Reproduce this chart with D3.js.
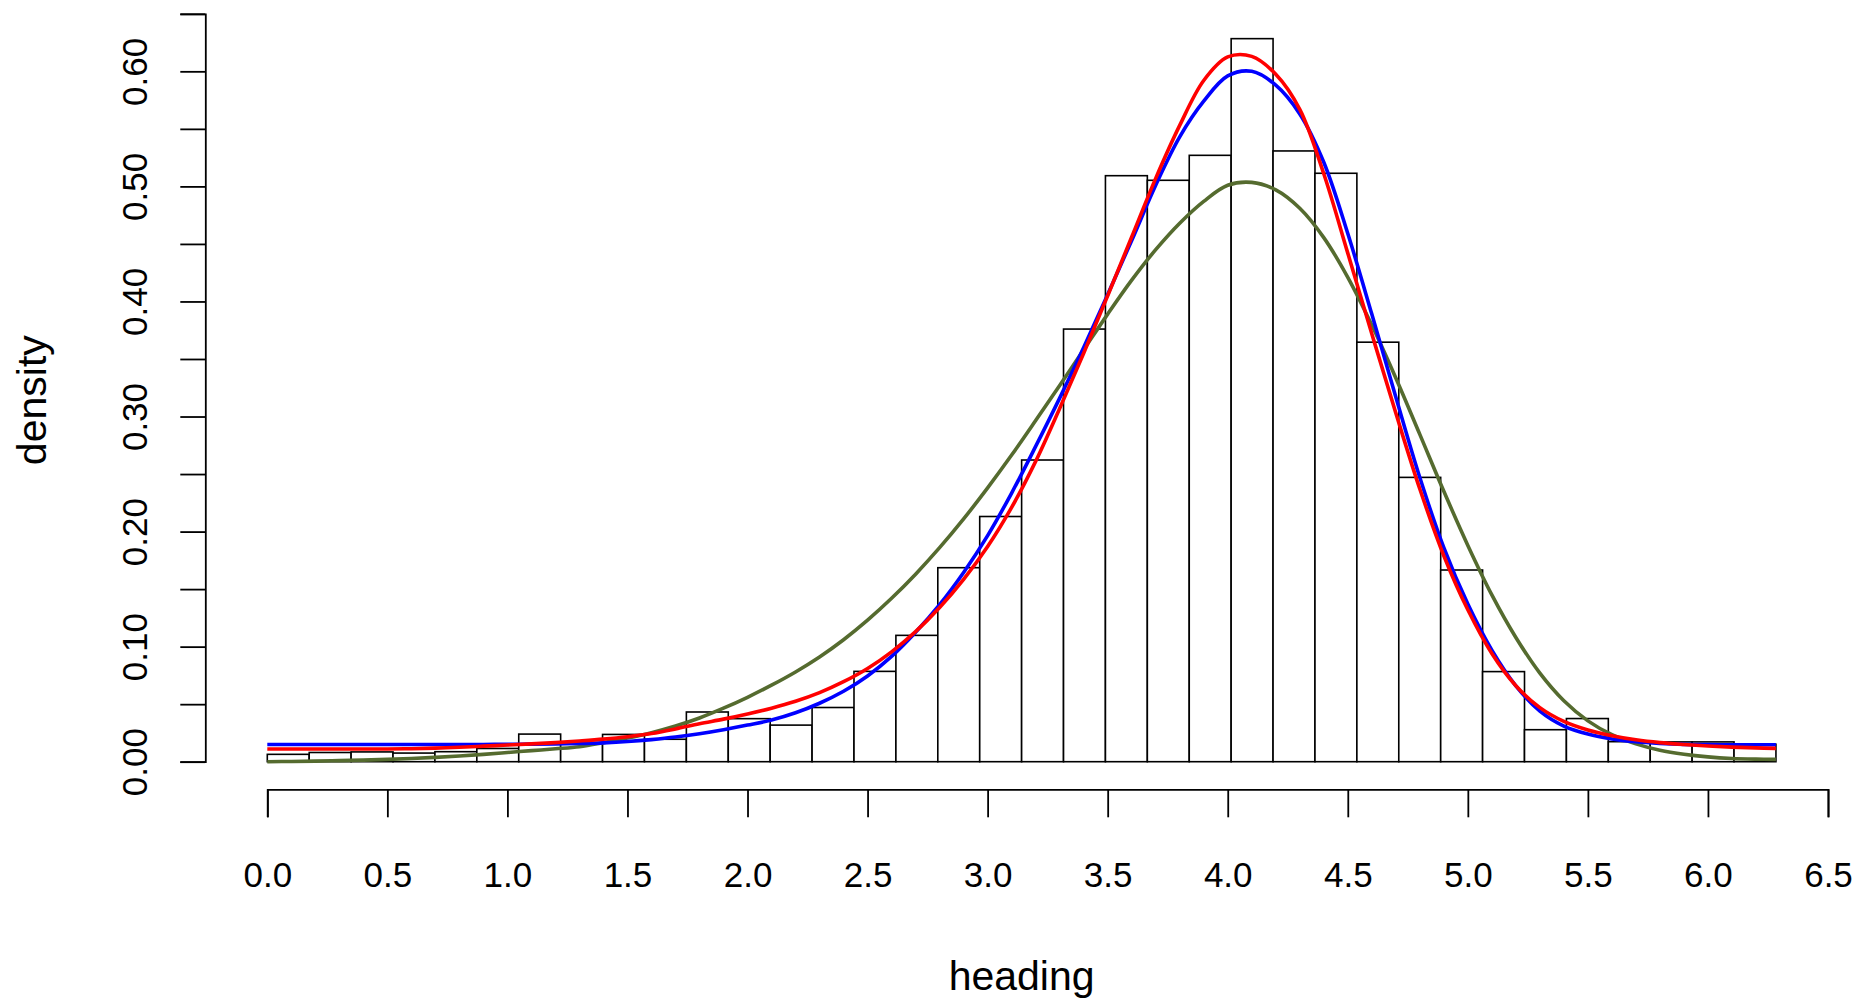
<!DOCTYPE html>
<html>
<head>
<meta charset="utf-8">
<script src="https://cdn.jsdelivr.net/npm/d3@7"></script>
<style>
  html, body { margin: 0; padding: 0; background: #fff; }
  svg { display: block; }
  text { font-family: 'Liberation Sans', Arial, sans-serif; fill: #000; }
</style>
</head>
<body>
<div id="chart"></div>
<script>
// histogram of heading (36 bins of 10 degrees over 0..2pi), density scale
const binCount = 36
const headingMax = 2 * Math.PI
const binDensity = [
  0.0064, 0.0080, 0.0085, 0.0075, 0.0087, 0.0115, 0.0240, 0.0160, 0.0237,
  0.0195, 0.0432, 0.0374, 0.0318, 0.0471, 0.0785, 0.1098, 0.1686, 0.2131,
  0.2622, 0.3760, 0.5093, 0.5053, 0.5270, 0.6284, 0.5308, 0.5114, 0.3646,
  0.2471, 0.1666, 0.0783, 0.0278, 0.0375, 0.0174, 0.0172, 0.0172, 0.0152
]

const curveHeading = [
  0.0, 0.1, 0.2, 0.3, 0.4, 0.5, 0.6, 0.7, 0.8, 0.9,
  1.0, 1.1, 1.2, 1.3, 1.4, 1.5, 1.6, 1.7, 1.8, 1.9,
  2.0, 2.1, 2.2, 2.3, 2.4, 2.5, 2.6, 2.7, 2.8, 2.9,
  3.0, 3.1, 3.2, 3.3, 3.4, 3.5, 3.6, 3.7, 3.8, 3.9,
  4.0, 4.1, 4.2, 4.3, 4.4, 4.5, 4.6, 4.7, 4.8, 4.9,
  5.0, 5.1, 5.2, 5.3, 5.4, 5.5, 5.6, 5.7, 5.8, 5.9,
  6.0, 6.1, 6.2, 6.283
]
const blueDensity = [
  0.0150, 0.0150, 0.0150, 0.0150, 0.0150, 0.0150, 0.0150, 0.0150, 0.0150, 0.0150,
  0.0151, 0.0153, 0.0155, 0.0158, 0.0164, 0.0175, 0.0192, 0.0214, 0.0243, 0.0278,
  0.0318, 0.0362, 0.0425, 0.0508, 0.0612, 0.0745, 0.0915, 0.1125, 0.1365, 0.1645,
  0.1965, 0.2335, 0.2740, 0.3160, 0.3600, 0.4060, 0.4530, 0.5010, 0.5430, 0.5740,
  0.5960, 0.6000, 0.5880, 0.5630, 0.5210, 0.4590, 0.3890, 0.3170, 0.2470, 0.1860,
  0.1370, 0.0970, 0.0660, 0.0440, 0.0310, 0.0240, 0.0198, 0.0173, 0.0159, 0.0151,
  0.0148, 0.0147, 0.0147, 0.0147
]
const redDensity = [
  0.0110, 0.0110, 0.0110, 0.0110, 0.0110, 0.0111, 0.0113, 0.0118, 0.0125, 0.0135,
  0.0145, 0.0155, 0.0166, 0.0180, 0.0196, 0.0217, 0.0245, 0.0285, 0.0330, 0.0370,
  0.0415, 0.0465, 0.0525, 0.0600, 0.0695, 0.0810, 0.0955, 0.1130, 0.1340, 0.1585,
  0.1870, 0.2210, 0.2610, 0.3070, 0.3550, 0.4050, 0.4560, 0.5070, 0.5530, 0.5920,
  0.6125, 0.6130, 0.5975, 0.5670, 0.5110, 0.4420, 0.3720, 0.3030, 0.2370, 0.1790,
  0.1320, 0.0940, 0.0660, 0.0470, 0.0350, 0.0275, 0.0225, 0.0190, 0.0166, 0.0150,
  0.0137, 0.0127, 0.0120, 0.0116
]
const greenDensity = [
  0.0000, 0.0002, 0.0005, 0.0009, 0.0014, 0.0020, 0.0028, 0.0038, 0.0050, 0.0064,
  0.0080, 0.0096, 0.0112, 0.0130, 0.0165, 0.0205, 0.0252, 0.0310, 0.0380, 0.0465,
  0.0560, 0.0665, 0.0780, 0.0910, 0.1060, 0.1230, 0.1420, 0.1630, 0.1860, 0.2110,
  0.2380, 0.2665, 0.2965, 0.3270, 0.3580, 0.3890, 0.4185, 0.4450, 0.4680, 0.4870,
  0.5010, 0.5035, 0.4970, 0.4810, 0.4555, 0.4210, 0.3795, 0.3335, 0.2845, 0.2350,
  0.1880, 0.1450, 0.1080, 0.0770, 0.0530, 0.0355, 0.0235, 0.0155, 0.0100, 0.0065,
  0.0042, 0.0028, 0.0022, 0.0020
]

const xTicks = [0, 0.5, 1, 1.5, 2, 2.5, 3, 3.5, 4, 4.5, 5, 5.5, 6, 6.5]
const yTicks = [0, 0.05, 0.1, 0.15, 0.2, 0.25, 0.3, 0.35, 0.4, 0.45, 0.5, 0.55, 0.6, 0.65]

const width = 1872
const height = 1000

const x = d3.scaleLinear().domain([0, 6.5]).range([267.3, 1828])
const y = d3.scaleLinear().domain([0, 0.65]).range([761.7, 13.8])

const svg = d3.select('#chart')
  .append('svg')
  .attr('width', width)
  .attr('height', height)

svg.append('rect')
  .attr('width', width)
  .attr('height', height)
  .attr('fill', '#fff')

const binWidth = headingMax / binCount
const bins = binDensity.map((d, i) => ({ x0: i * binWidth, x1: (i + 1) * binWidth, density: d }))

svg.append('g')
  .selectAll('rect')
  .data(bins)
  .join('rect')
  .attr('x', d => x(d.x0))
  .attr('y', d => y(d.density))
  .attr('width', d => x(d.x1) - x(d.x0))
  .attr('height', d => y(0) - y(d.density))
  .attr('fill', '#fff')
  .attr('stroke', '#000')
  .attr('stroke-width', 1.6)

const line = (values) => d3.line()
  .x((d, i) => x(curveHeading[i]))
  .y(d => y(d))
  .curve(d3.curveCatmullRom.alpha(0.5))(values)

const curves = [
  { values: greenDensity, color: '#556B2F' },
  { values: blueDensity, color: '#0000FF' },
  { values: redDensity, color: '#FF0000' }
]

svg.append('g')
  .selectAll('path')
  .data(curves)
  .join('path')
  .attr('d', d => line(d.values))
  .attr('fill', 'none')
  .attr('stroke', d => d.color)
  .attr('stroke-width', 3.6)
  .attr('stroke-linejoin', 'round')

// axes sit at the edge of the plot region, a bit off the data
const xAxisY = 789.3
const yAxisX = 205.3

const xAxis = svg.append('g')
  .attr('transform', `translate(0,${xAxisY})`)
  .call(d3.axisBottom(x).tickValues(xTicks).tickFormat(d3.format('.1f')).tickSize(28))

xAxis.selectAll('text')
  .attr('y', 98)
  .attr('dy', null)
  .style('font-size', '35px')

const yAxis = svg.append('g')
  .attr('transform', `translate(${yAxisX},0)`)
  .call(d3.axisLeft(y)
    .tickValues(yTicks)
    .tickFormat(d => Math.round(d * 100) % 10 === 0 ? d3.format('.2f')(d) : '')
    .tickSize(25))

yAxis.selectAll('text')
  .attr('x', null)
  .attr('dy', null)
  .attr('text-anchor', 'middle')
  .attr('transform', 'translate(-58,0) rotate(-90)')
  .style('font-size', '35px')

svg.selectAll('.domain, .tick line')
  .attr('stroke', '#000')
  .attr('stroke-width', 1.8)

svg.append('text')
  .attr('x', x(Math.PI))
  .attr('y', 990)
  .attr('text-anchor', 'middle')
  .style('font-size', '41px')
  .text('heading')

svg.append('text')
  .attr('transform', `translate(46,${y(0.3142)}) rotate(-90)`)
  .attr('text-anchor', 'middle')
  .style('font-size', '41px')
  .text('density')
</script>
</body>
</html>
